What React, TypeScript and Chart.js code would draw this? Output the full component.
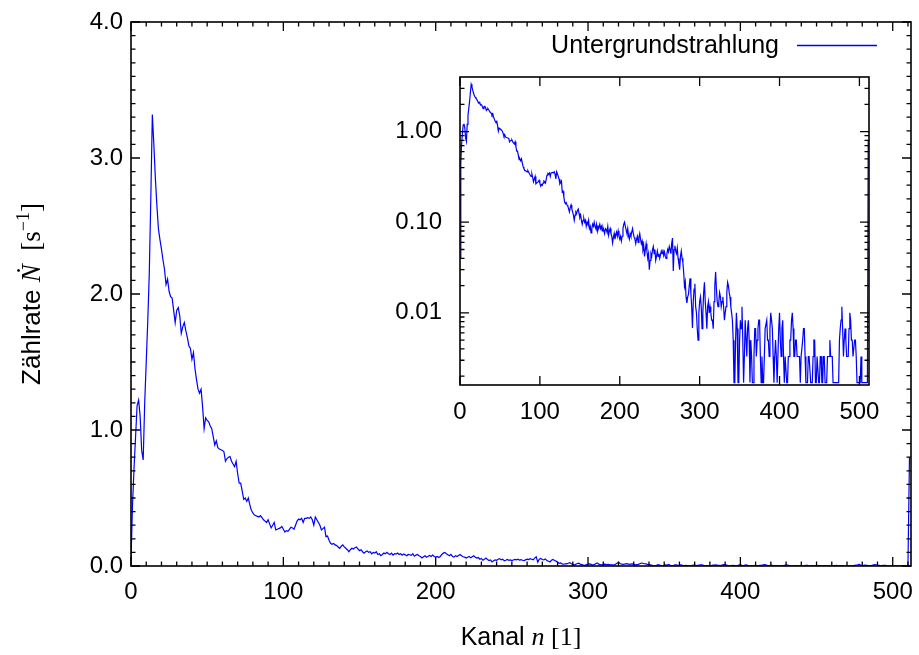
import React, { useEffect, useRef } from 'react';
import { Chart, registerables } from 'chart.js';

Chart.register(...registerables);

// ---------- data ----------
const channels: number[] = Array.from({ length: 512 }, (_, i) => i);

// count rate per channel in 1/s
const rate: number[] = [
  // 0-9
  0.04, 0.45, 0.72, 0.95, 1.18, 1.22, 1.10, 0.85, 0.78, 1.20,
  // 10-19
  1.50, 1.80, 2.15, 2.70, 3.32, 3.10, 2.85, 2.65, 2.48, 2.40,
  // 20-29
  2.33, 2.25, 2.18, 2.07, 2.11, 2.02, 1.98, 1.97, 1.88, 1.79,
  // 30-39
  1.88, 1.90, 1.84, 1.71, 1.76, 1.79, 1.73, 1.68, 1.62, 1.60,
  // 40-49
  1.52, 1.57, 1.45, 1.37, 1.30, 1.27, 1.30, 1.17, 1.01, 1.09,
  // 50-59
  1.07, 1.06, 1.03, 1.01, 0.95, 0.89, 0.92, 0.87, 0.86, 0.855,
  // 60-69
  0.85, 0.84, 0.77, 0.79, 0.80, 0.805, 0.77, 0.75, 0.73, 0.77,
  // 70-79
  0.68, 0.61, 0.61, 0.55, 0.49, 0.50, 0.475, 0.50, 0.45, 0.41,
  // 80-89
  0.39, 0.375, 0.37, 0.365, 0.36, 0.37, 0.355, 0.34, 0.33, 0.32,
  // 90-99
  0.34, 0.31, 0.28, 0.30, 0.32, 0.265, 0.27, 0.275, 0.28, 0.29,
  // 100-109
  0.27, 0.25, 0.26, 0.255, 0.27, 0.285, 0.28, 0.27, 0.30, 0.33,
  // 110-119
  0.345, 0.34, 0.35, 0.32, 0.35, 0.35, 0.355, 0.35, 0.36, 0.34,
  // 120-129
  0.30, 0.36, 0.34, 0.32, 0.30, 0.265, 0.275, 0.285, 0.216, 0.22,
  // 130-139
  0.19, 0.167, 0.16, 0.165, 0.155, 0.15, 0.14, 0.13, 0.145, 0.155,
  // 140-149
  0.14, 0.13, 0.12, 0.105, 0.12, 0.13, 0.125, 0.135, 0.14, 0.125,
  // 150-159
  0.113, 0.12, 0.105, 0.095, 0.105, 0.11, 0.10, 0.105, 0.09, 0.10,
  // 160-169
  0.095, 0.105, 0.085, 0.09, 0.076, 0.085, 0.095, 0.09, 0.10, 0.09,
  // 170-179
  0.085, 0.095, 0.08, 0.09, 0.088, 0.095, 0.085, 0.09, 0.08, 0.088,
  // 180-189
  0.082, 0.075, 0.085, 0.083, 0.078, 0.09, 0.072, 0.08, 0.085, 0.075,
  // 190-199
  0.07, 0.059, 0.068, 0.075, 0.065, 0.072, 0.078, 0.07, 0.08, 0.07,
  // 200-209
  0.065, 0.07, 0.062, 0.07, 0.085, 0.095, 0.10, 0.09, 0.082, 0.075,
  // 210-219
  0.085, 0.07, 0.065, 0.075, 0.07, 0.078, 0.085, 0.075, 0.068, 0.065,
  // 220-229
  0.058, 0.065, 0.07, 0.06, 0.068, 0.075, 0.065, 0.058, 0.062, 0.05,
  // 230-239
  0.055, 0.042, 0.05, 0.058, 0.048, 0.04, 0.045, 0.03, 0.038, 0.045,
  // 240-249
  0.042, 0.05, 0.054, 0.045, 0.05, 0.038, 0.042, 0.048, 0.042, 0.045,
  // 250-259
  0.04, 0.044, 0.048, 0.045, 0.05, 0.043, 0.047, 0.042, 0.04, 0.045,
  // 260-269
  0.05, 0.047, 0.054, 0.05, 0.045, 0.058, 0.067, 0.029, 0.05, 0.055,
  // 270-279
  0.048, 0.045, 0.052, 0.04, 0.035, 0.03, 0.042, 0.048, 0.04, 0.036,
  // 280-289
  0.028, 0.0196, 0.022, 0.015, 0.0129, 0.015, 0.016, 0.02, 0.024, 0.0167,
  // 290-299
  0.0117, 0.0068, 0.0133, 0.0183, 0.021, 0.0117, 0.01, 0.0067, 0.005, 0.01,
  // 300-309
  0.0133, 0.015, 0.0117, 0.0067, 0.01, 0.0167, 0.0217, 0.0133, 0.01, 0.0067,
  // 310-319
  0.0117, 0.0133, 0.01, 0.0117, 0.01, 0.0083, 0.0083, 0.0067, 0.0133, 0.02,
  // 320-329
  0.0283, 0.0183, 0.0133, 0.0117, 0.0133, 0.0167, 0.015, 0.0117, 0.0133, 0.015,
  // 330-339
  0.0117, 0.0083, 0.01, 0.0117, 0.0167, 0.0217, 0.02, 0.0167, 0.015, 0.0117,
  // 340-349
  0.01, 0.0083, 0.005, 0.0017, 0.0017, 0.005, 0.01, 0.0067, 0.0017, 0.0017,
  // 350-359
  0.005, 0.0083, 0.0067, 0.0117, 0.005, 0.0017, 0.0033, 0.0083, 0.0083, 0.0033,
  // 360-369
  0.0067, 0.0083, 0.005, 0.0017, 0.005, 0.0033, 0.0017, 0.0017, 0.0033, 0.0067,
  // 370-379
  0.0067, 0.0033, 0.005, 0.0067, 0.0083, 0.0083, 0.0033, 0.0017, 0.0033, 0.0017,
  // 380-389
  0.0017, 0.0033, 0.0067, 0.0067, 0.0083, 0.005, 0.005, 0.0033, 0.0067, 0.01,
  // 390-399
  0.0083, 0.0067, 0.0033, 0.0017, 0.0033, 0.005, 0.0033, 0.0017, 0.0017, 0.0067,
  // 400-409
  0.01, 0.005, 0.0033, 0.0067, 0.0083, 0.0033, 0.0017, 0.0033, 0.0033, 0.0017,
  // 410-419
  0.0017, 0.0033, 0.0033, 0.005, 0.005, 0.0083, 0.01, 0.0067, 0.0033, 0.0033,
  // 420-429
  0.005, 0.005, 0.0033, 0.0033, 0.0033, 0.0033, 0.0017, 0.0033, 0.0033, 0.005,
  // 430-439
  0.0067, 0.0067, 0.0033, 0.0017, 0.0017, 0.0017, 0.0033, 0.0033, 0.0033, 0.0017,
  // 440-449
  0.0017, 0.0017, 0.0033, 0.005, 0.005, 0.0017, 0.0017, 0.0033, 0.0033, 0.0017,
  // 450-459
  0.0017, 0.0033, 0.0033, 0.0017, 0.0017, 0.0033, 0.0033, 0.0017, 0.0017, 0.0017,
  // 460-469
  0.0033, 0.0033, 0.0033, 0.005, 0.0033, 0.0033, 0.0033, 0.0017, 0.0017, 0.0017,
  // 470-479
  0.0017, 0.0017, 0.0017, 0.0017, 0.0017, 0.005, 0.0067, 0.0083, 0.0117, 0.0067,
  // 480-489
  0.0033, 0.005, 0.0067, 0.005, 0.0033, 0.0033, 0.0033, 0.0067, 0.01, 0.0083,
  // 490-499
  0.005, 0.005, 0.0033, 0.0033, 0.005, 0.005, 0.0033, 0.0017, 0.0017, 0.0017,
  // 500-509
  0.0017, 0.0017, 0.0033, 0.0017, 0.0017, 0.0017, 0.0017, 0.0017, 0.0017, 0.0017,
  // 510-511
  0.0017, 0.8,
];

const mainXTicks: number[] = [0, 100, 200, 300, 400, 500];
const mainYTicks: number[] = [0, 1, 2, 3, 4];
const insetXTicks: number[] = [0, 100, 200, 300, 400, 500];
const insetYTicks: number[] = [0.01, 0.1, 1];
const legendLabel = 'Untergrundstrahlung';

// ---------- styling ----------
const SANS = '"Liberation Sans", Arial, sans-serif';
const SERIF = '"Liberation Serif", "DejaVu Serif", serif';
const TICK_SIZE = 24;
const LINE_BLUE = 'rgb(0,0,255)';

type Seg = { text: string; font: string; dy?: number };

function drawRich(ctx: CanvasRenderingContext2D, segs: Seg[], cx: number, cy: number, rotate: boolean) {
  ctx.save();
  ctx.translate(cx, cy);
  if (rotate) ctx.rotate(-Math.PI / 2);
  let total = 0;
  const widths: number[] = [];
  for (const s of segs) {
    ctx.font = s.font;
    const w = ctx.measureText(s.text).width;
    widths.push(w);
    total += w;
  }
  let x = -total / 2;
  ctx.textBaseline = 'alphabetic';
  ctx.textAlign = 'left';
  ctx.fillStyle = '#000';
  segs.forEach((s, i) => {
    ctx.font = s.font;
    ctx.fillText(s.text, x, s.dy || 0);
    x += widths[i];
  });
  ctx.restore();
}

type FrameOpts = {
  xMajor: number[];
  xMinor: number[];
  yMajor: number[];
  yMinor: number[];
  majorLen: number;
  minorLen: number;
  fillWhite?: boolean;
};

function framePlugin(o: FrameOpts) {
  return {
    id: 'gnuFrame',
    beforeDatasetsDraw(chart: any) {
      if (!o.fillWhite) return;
      const { ctx, chartArea } = chart;
      ctx.save();
      ctx.fillStyle = '#fff';
      ctx.fillRect(chartArea.left, chartArea.top, chartArea.right - chartArea.left, chartArea.bottom - chartArea.top);
      ctx.restore();
    },
    afterDatasetsDraw(chart: any) {
      const { ctx, chartArea } = chart;
      const { left, right, top, bottom } = chartArea;
      const xs = chart.scales.x;
      const ys = chart.scales.y;
      ctx.save();
      ctx.strokeStyle = '#000';
      ctx.lineWidth = 1.3;
      ctx.beginPath();
      const seg = (x1: number, y1: number, x2: number, y2: number) => {
        ctx.moveTo(x1, y1);
        ctx.lineTo(x2, y2);
      };
      for (const v of o.xMajor) {
        const p = xs.getPixelForValue(v);
        seg(p, bottom, p, bottom - o.majorLen);
        seg(p, top, p, top + o.majorLen);
      }
      for (const v of o.xMinor) {
        const p = xs.getPixelForValue(v);
        seg(p, bottom, p, bottom - o.minorLen);
        seg(p, top, p, top + o.minorLen);
      }
      for (const v of o.yMajor) {
        const p = ys.getPixelForValue(v);
        seg(left, p, left + o.majorLen, p);
        seg(right, p, right - o.majorLen, p);
      }
      for (const v of o.yMinor) {
        const p = ys.getPixelForValue(v);
        seg(left, p, left + o.minorLen, p);
        seg(right, p, right - o.minorLen, p);
      }
      ctx.stroke();
      ctx.lineWidth = 1.6;
      ctx.strokeRect(left, top, right - left, bottom - top);
      ctx.restore();
    },
  };
}

const mainTextPlugin = {
  id: 'mainText',
  afterDraw(chart: any) {
    const { ctx, chartArea } = chart;
    // x title
    const cxMid = (chartArea.left + chartArea.right) / 2;
    drawRich(
      ctx,
      [
        { text: 'Kanal ', font: `25px ${SANS}` },
        { text: 'n', font: `italic 26px ${SERIF}` },
        { text: ' [1]', font: `26px ${SERIF}` },
      ],
      cxMid,
      645,
      false
    );
    // y title
    const cyMid = (chartArea.top + chartArea.bottom) / 2;
    drawRich(
      ctx,
      [
        { text: 'Zählrate ', font: `26px ${SANS}` },
        { text: 'Ṅ', font: `italic 27px ${SERIF}` },
        { text: '  [s', font: `27px ${SERIF}` },
        { text: '−1', font: `18px ${SERIF}`, dy: -11 },
        { text: ']', font: `27px ${SERIF}` },
      ],
      40,
      cyMid,
      true
    );
    // legend
    ctx.save();
    ctx.font = `25px ${SANS}`;
    ctx.fillStyle = '#000';
    ctx.textAlign = 'right';
    ctx.textBaseline = 'alphabetic';
    ctx.fillText(legendLabel, 779, 53);
    ctx.strokeStyle = LINE_BLUE;
    ctx.lineWidth = 1.4;
    ctx.beginPath();
    ctx.moveTo(797, 45.5);
    ctx.lineTo(877, 45.5);
    ctx.stroke();
    ctx.restore();
  },
};

const points = channels.map((c, i) => ({ x: c, y: rate[i] }));

const zeroPad = (s: any) => {
  s.paddingLeft = 0;
  s.paddingRight = 0;
  s.paddingTop = 0;
  s.paddingBottom = 0;
};

export default function App() {
  const mainRef = useRef<HTMLCanvasElement | null>(null);
  const insetRef = useRef<HTMLCanvasElement | null>(null);

  useEffect(() => {
    if (!mainRef.current || !insetRef.current) return;

    const mainXMinor: number[] = [];
    for (let v = 10; v <= 510; v += 10) if (v % 100 !== 0) mainXMinor.push(v);
    const mainYMinor: number[] = [];
    for (let k = 1; k < 40; k++) if (k % 10 !== 0) mainYMinor.push(k / 10);

    const insetYMin = 0.0016;
    const insetYMax = 4;
    const insetYMinor: number[] = [];
    for (const d of [0.001, 0.01, 0.1, 1]) {
      for (let m = 2; m <= 9; m++) {
        const v = m * d;
        if (v > insetYMin && v < insetYMax) insetYMinor.push(v);
      }
    }

    const tickFont = { family: SANS, size: TICK_SIZE };

    const main = new Chart(mainRef.current, {
      type: 'line',
      data: {
        datasets: [
          {
            label: legendLabel,
            data: points,
            borderColor: LINE_BLUE,
            borderWidth: 1.2,
            pointRadius: 0,
            tension: 0,
            fill: false,
          },
        ],
      },
      options: {
        animation: false,
        responsive: false,
        devicePixelRatio: 1,
        layout: { autoPadding: false, padding: { top: 22, right: 8, left: 0, bottom: 0 } },
        scales: {
          x: {
            type: 'linear',
            min: 0,
            max: 512,
            afterFit: (s: any) => {
              s.height = 89;
              zeroPad(s);
            },
            afterBuildTicks: (s: any) => {
              s.ticks = mainXTicks.map((v) => ({ value: v }));
            },
            grid: { display: false, drawTicks: false },
            border: { display: false },
            ticks: {
              font: tickFont,
              color: '#000',
              padding: 12,
              maxRotation: 0,
              autoSkip: false,
              callback: (v: any) => String(v),
            },
          },
          y: {
            type: 'linear',
            min: 0,
            max: 4,
            afterFit: (s: any) => {
              s.width = 131;
              zeroPad(s);
            },
            afterBuildTicks: (s: any) => {
              s.ticks = mainYTicks.map((v) => ({ value: v }));
            },
            grid: { display: false, drawTicks: false },
            border: { display: false },
            ticks: {
              font: tickFont,
              color: '#000',
              padding: 8,
              autoSkip: false,
              callback: (v: any) => Number(v).toFixed(1),
            },
          },
        },
        plugins: { legend: { display: false }, tooltip: { enabled: false } },
      },
      plugins: [
        framePlugin({
          xMajor: mainXTicks,
          xMinor: mainXMinor,
          yMajor: mainYTicks,
          yMinor: mainYMinor,
          majorLen: 9,
          minorLen: 4.5,
        }),
        mainTextPlugin,
      ],
    } as any);

    const inset = new Chart(insetRef.current, {
      type: 'line',
      data: {
        datasets: [
          {
            label: legendLabel,
            data: points,
            borderColor: LINE_BLUE,
            borderWidth: 1.2,
            pointRadius: 0,
            tension: 0,
            fill: false,
          },
        ],
      },
      options: {
        animation: false,
        responsive: false,
        devicePixelRatio: 1,
        layout: { autoPadding: false, padding: { top: 17, right: 11, left: 0, bottom: 0 } },
        scales: {
          x: {
            type: 'linear',
            min: 0,
            max: 512,
            afterFit: (s: any) => {
              s.height = 45;
              zeroPad(s);
            },
            afterBuildTicks: (s: any) => {
              s.ticks = insetXTicks.map((v) => ({ value: v }));
            },
            grid: { display: false, drawTicks: false },
            border: { display: false },
            ticks: {
              font: tickFont,
              color: '#000',
              padding: 13,
              maxRotation: 0,
              autoSkip: false,
              callback: (v: any) => String(v),
            },
          },
          y: {
            type: 'logarithmic',
            min: insetYMin,
            max: insetYMax,
            afterFit: (s: any) => {
              s.width = 80;
              zeroPad(s);
            },
            afterBuildTicks: (s: any) => {
              s.ticks = insetYTicks.map((v) => ({ value: v }));
            },
            grid: { display: false, drawTicks: false },
            border: { display: false },
            ticks: {
              font: tickFont,
              color: '#000',
              padding: 18,
              autoSkip: false,
              callback: (v: any) => Number(v).toFixed(2),
            },
          },
        },
        plugins: { legend: { display: false }, tooltip: { enabled: false } },
      },
      plugins: [
        framePlugin({
          xMajor: insetXTicks,
          xMinor: [],
          yMajor: insetYTicks,
          yMinor: insetYMinor,
          majorLen: 9,
          minorLen: 4.5,
          fillWhite: true,
        }),
      ],
    } as any);

    return () => {
      main.destroy();
      inset.destroy();
    };
  }, []);

  return (
    <div style={{ position: 'absolute', left: 0, top: 0, width: 919, height: 655, background: '#fff' }}>
      <canvas
        ref={mainRef}
        width={919}
        height={655}
        style={{ position: 'absolute', left: 0, top: 0, width: 919, height: 655 }}
      />
      <canvas
        ref={insetRef}
        width={500}
        height={370}
        style={{ position: 'absolute', left: 380, top: 60, width: 500, height: 370 }}
      />
    </div>
  );
}
